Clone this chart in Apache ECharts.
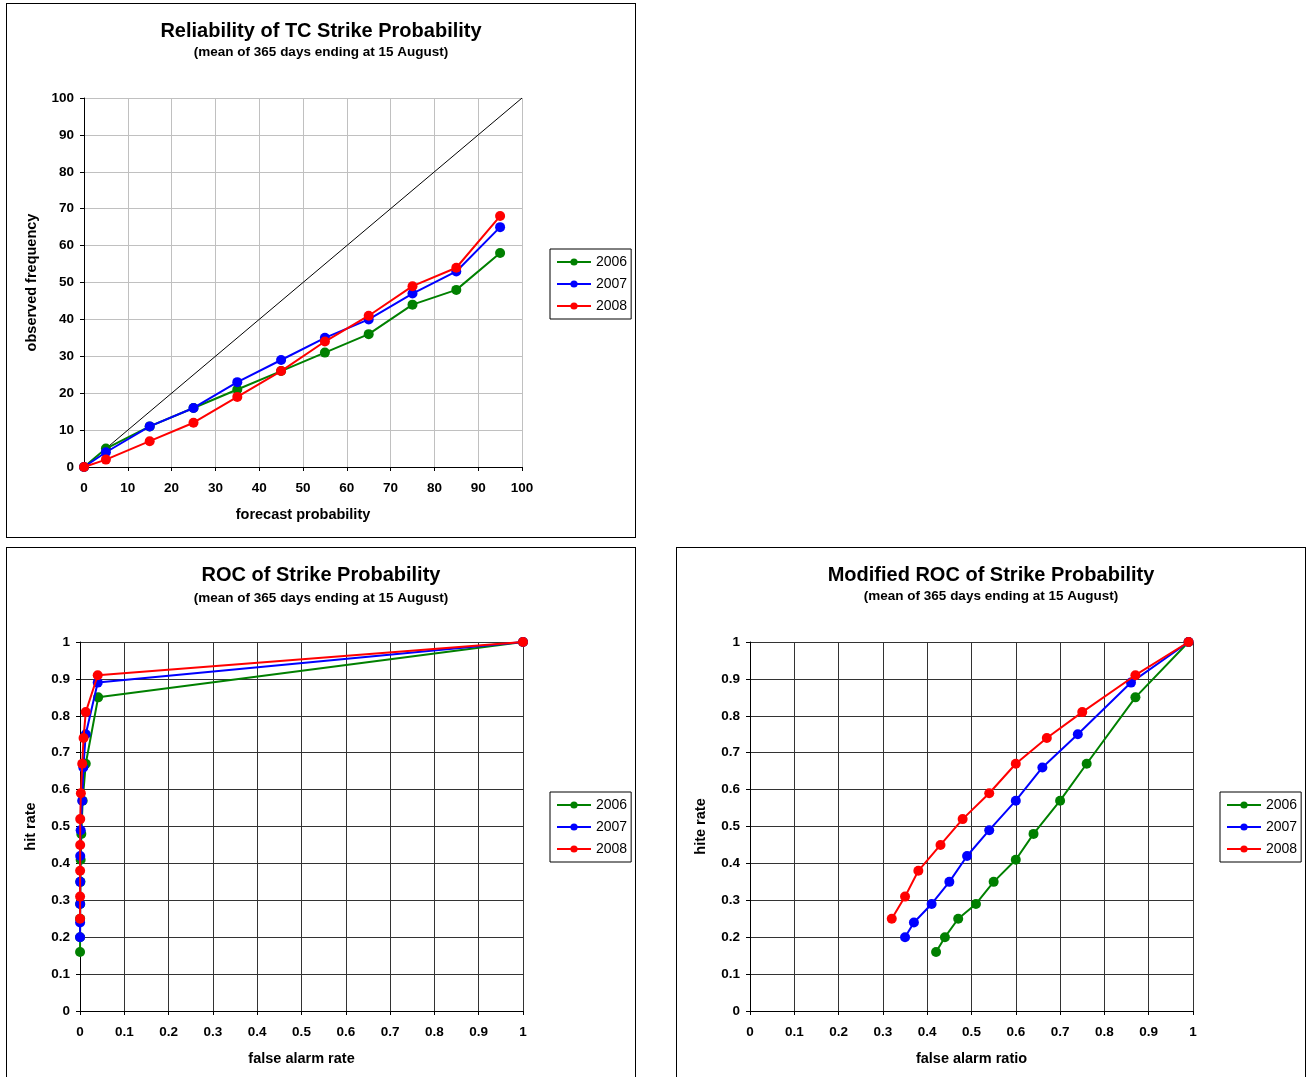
<!DOCTYPE html>
<html>
<head>
<meta charset="utf-8">
<script src="https://cdn.jsdelivr.net/npm/echarts@6/dist/echarts.min.js"></script>
<style>
  html, body { margin: 0; padding: 0; background: #fff; width: 1306px; height: 1077px; overflow: hidden; }
  .panel { position: absolute; border: 1px solid #000; background: #fff; }
</style>
</head>
<body>
<div id="p1" class="panel" style="left:6px;top:3px;width:628px;height:533px;"></div>
<div id="p2" class="panel" style="left:6px;top:547px;width:628px;height:540px;"></div>
<div id="p3" class="panel" style="left:676px;top:547px;width:628px;height:540px;"></div>
<script>
// ---------- DATA ----------
const years = ['2006', '2007', '2008'];
const colors = ['#008000', '#0000ff', '#ff0000'];

// Reliability diagram
const forecastProb = [0, 5, 15, 25, 35, 45, 55, 65, 75, 85, 95];
const obsFreq2006 = [0, 5, 11, 16, 21, 26, 31, 36, 44, 48, 58];
const obsFreq2007 = [0, 4, 11, 16, 23, 29, 35, 40, 47, 53, 65];
const obsFreq2008 = [0, 2, 7, 12, 19, 26, 34, 41, 49, 54, 68];
const perfectLine = [[0, 0], [100, 100]];

// ROC: hit rates (shared by ROC and modified ROC)
const hitRate2006 = [1, 0.85, 0.67, 0.57, 0.48, 0.41, 0.35, 0.29, 0.25, 0.20, 0.16];
const hitRate2007 = [1, 0.89, 0.75, 0.66, 0.57, 0.49, 0.42, 0.35, 0.29, 0.24, 0.20];
const hitRate2008 = [1, 0.91, 0.81, 0.74, 0.67, 0.59, 0.52, 0.45, 0.38, 0.31, 0.25];

// ROC: false alarm rates
const farRate2006 = [1, 0.041, 0.013, 0.006, 0.003, 0.0015, 0.001, 0.0005, 0.0003, 0.0002, 0.0001];
const farRate2007 = [1, 0.040, 0.013, 0.0075, 0.005, 0.0015, 0.0005, 0.0004, 0.0003, 0.0002, 0.0001];
const farRate2008 = [1, 0.040, 0.013, 0.008, 0.005, 0.002, 0.0005, 0.0004, 0.0003, 0.0002, 0.0001];

// Modified ROC: false alarm ratios
const farRatio2006 = [0.99, 0.87, 0.76, 0.70, 0.64, 0.60, 0.55, 0.51, 0.47, 0.44, 0.42];
const farRatio2007 = [0.99, 0.86, 0.74, 0.66, 0.60, 0.54, 0.49, 0.45, 0.41, 0.37, 0.35];
const farRatio2008 = [0.99, 0.87, 0.75, 0.67, 0.60, 0.54, 0.48, 0.43, 0.38, 0.35, 0.32];

const relTicks = [0, 10, 20, 30, 40, 50, 60, 70, 80, 90, 100];
const rocTicks = [0, 0.1, 0.2, 0.3, 0.4, 0.5, 0.6, 0.7, 0.8, 0.9, 1];

const subtitleText = '(mean of 365 days ending at 15 August)';

// ---------- HELPERS ----------
const FONT = 'Liberation Sans, Arial, sans-serif';
function pairs(xs, ys) { return xs.map((x, i) => [x, ys[i]]); }

function yearSeries(dataList) {
  return dataList.map((d, i) => ({
    name: years[i],
    type: 'line',
    data: d,
    symbol: 'circle',
    symbolSize: 10,
    color: colors[i],
    lineStyle: { width: 2, color: colors[i] },
    itemStyle: { color: colors[i] },
    animation: false,
    z: 3 + i
  }));
}

function axis(name, ticks, gap, gridColor, isY) {
  return {
    type: 'value',
    min: ticks[0],
    max: ticks[ticks.length - 1],
    interval: ticks[1] - ticks[0],
    name: name,
    nameLocation: 'middle',
    nameGap: gap,
    nameTextStyle: { fontFamily: FONT, fontWeight: 'bold', fontSize: 14.5, color: '#000' },
    axisLine: { show: true, onZero: false, lineStyle: { color: '#000', width: 1 } },
    axisTick: { show: true, length: 4, lineStyle: { color: '#000' } },
    axisLabel: {
      fontFamily: FONT, fontWeight: 'bold', fontSize: 13.5, color: '#000',
      margin: isY ? 10 : 14,
      formatter: v => String(Math.round(v * 10) / 10)
    },
    splitLine: { show: true, lineStyle: { color: gridColor, width: 1 } }
  };
}

function legend(top) {
  return {
    data: years,
    orient: 'vertical',
    left: 543,
    top: top,
    itemWidth: 34,
    itemHeight: 9,
    itemGap: 8,
    padding: [6, 4, 6, 6],
    borderColor: '#000',
    borderWidth: 1,
    textStyle: { fontFamily: FONT, fontSize: 14, color: '#000' }
  };
}

function titles(main, mainTop, subTop) {
  return [
    { text: main, left: 'center', top: mainTop,
      textStyle: { fontFamily: FONT, fontWeight: 'bold', fontSize: 20, color: '#000' } },
    { text: subtitleText, left: 'center', top: subTop,
      textStyle: { fontFamily: FONT, fontWeight: 'bold', fontSize: 13.5, color: '#000' } }
  ];
}

// ---------- CHART 1 ----------
const c1 = echarts.init(document.getElementById('p1'), null, { renderer: 'canvas' });
c1.setOption({
  animation: false,
  title: titles('Reliability of TC Strike Probability', 12, 36),
  legend: legend(245),
  grid: { left: 77, top: 94, width: 438, height: 369 },
  xAxis: axis('forecast probability', relTicks, 40, '#c0c0c0', false),
  yAxis: axis('observed frequency', relTicks, 45, '#c0c0c0', true),
  series: [
    { name: 'diag', type: 'line', data: perfectLine, symbol: 'none',
      lineStyle: { color: '#000', width: 1 }, z: 2, silent: true }
  ].concat(yearSeries([
    pairs(forecastProb, obsFreq2006),
    pairs(forecastProb, obsFreq2007),
    pairs(forecastProb, obsFreq2008)
  ]))
});

// ---------- CHART 2 ----------
const c2 = echarts.init(document.getElementById('p2'), null, { renderer: 'canvas' });
c2.setOption({
  animation: false,
  title: titles('ROC of Strike Probability', 12, 38),
  legend: legend(244),
  grid: { left: 73, top: 94, width: 443, height: 369 },
  xAxis: axis('false alarm rate', rocTicks, 40, '#333', false),
  yAxis: axis('hit rate', rocTicks, 42, '#333', true),
  series: yearSeries([
    pairs(farRate2006, hitRate2006),
    pairs(farRate2007, hitRate2007),
    pairs(farRate2008, hitRate2008)
  ])
});

// ---------- CHART 3 ----------
const c3 = echarts.init(document.getElementById('p3'), null, { renderer: 'canvas' });
c3.setOption({
  animation: false,
  title: titles('Modified ROC of Strike Probability', 12, 36),
  legend: legend(244),
  grid: { left: 73, top: 94, width: 443, height: 369 },
  xAxis: axis('false alarm ratio', rocTicks, 40, '#333', false),
  yAxis: axis('hite rate', rocTicks, 42, '#333', true),
  series: yearSeries([
    pairs(farRatio2006, hitRate2006),
    pairs(farRatio2007, hitRate2007),
    pairs(farRatio2008, hitRate2008)
  ])
});
</script>
</body>
</html>
